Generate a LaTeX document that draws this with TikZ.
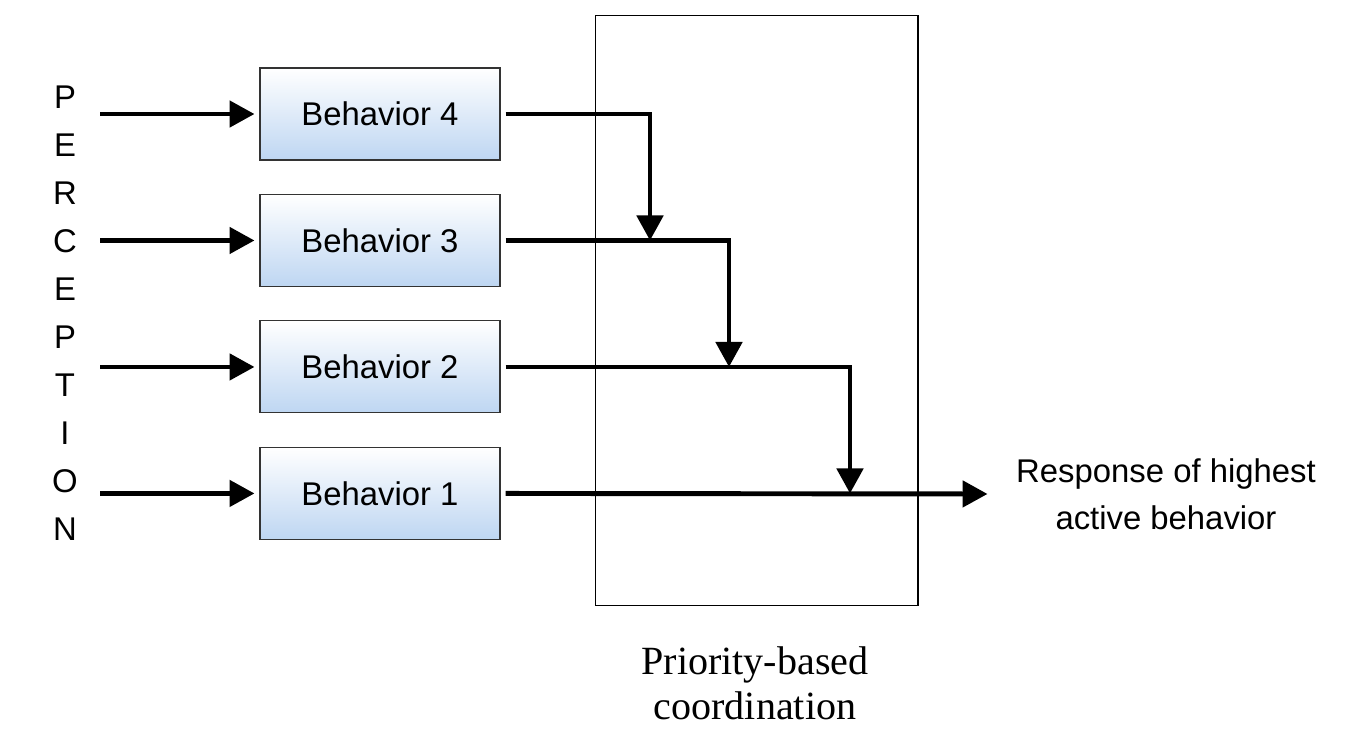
\documentclass[tikz,border=0pt]{standalone}
\usepackage{fontspec}
\setmainfont{Liberation Serif}
\setsansfont{Liberation Sans}
\usetikzlibrary{arrows.meta,positioning}
\definecolor{boxblue}{RGB}{190,214,242}

\begin{document}
\begin{tikzpicture}[x=0.02cm,y=-0.02cm,node distance=2.53cm,on grid,
  behav/.style={draw=black!80,line width=0.6pt,minimum width=4.8cm,minimum height=1.84cm,
    top color=white,bottom color=boxblue,font=\sffamily\fontsize{18.7}{22}\selectfont},
  flow/.style={line width=2.8pt,-{Triangle[length=0.5cm,width=0.52cm]}}]
   \useasboundingbox (0,0) rectangle (1346,752);
   % coordination block
   \node[draw,line width=0.6pt,minimum width=6.46cm,minimum height=11.82cm] (prio) at (756.5,310.5) {};
   \node[font=\rmfamily\fontsize{22.8}{25.5}\selectfont,align=center] (coord) at (755,683) {Priority-based\\coordination};
   % behaviors
   \node[behav] (b4) at (380,114) {Behavior 4};
   \node[behav,below=of b4] (b3) {Behavior 3};
   \node[behav,below=of b3] (b2) {Behavior 2};
   \node[behav,below=of b2] (b1) {Behavior 1};
   \node[font=\sffamily\fontsize{18.7}{27.3}\selectfont,align=center] (perc) at (65,313.5)
     {P\\E\\R\\C\\E\\P\\T\\I\\O\\N};
   \node[font=\sffamily\fontsize{18.7}{27}\selectfont,align=center] (resp) at (1166,494)
     {Response of highest\\active behavior};
   % inputs
   \foreach \b in {b4,b3,b2,b1}
     \draw[flow,shorten >=0.1cm] ([xshift=-5.6cm]\b.center) -- (\b.west);
   % suppression
   \coordinate (j4) at (650,0);
   \coordinate (j3) at (729,0);
   \coordinate (j2) at (850,0);
   \draw[flow,shorten <=0.1cm] (b4.east) -| (b3.east -| j4);
   \draw[flow,shorten <=0.1cm] (b3.east) -| (b2.east -| j3);
   \draw[flow,shorten <=0.1cm] (b2.east) -| (b1.east -| j2);
   \draw[flow,shorten <=0.1cm,shorten >=0.45cm] (b1.east) -- (resp.west);
\end{tikzpicture}
\end{document}
